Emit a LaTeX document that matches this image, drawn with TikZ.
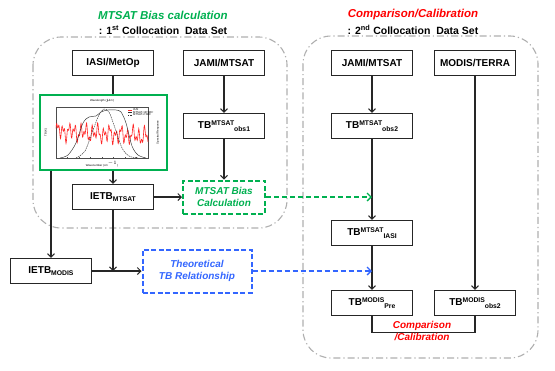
\documentclass[tikz,border=0pt]{standalone}
\usepackage{fontspec}
\setmainfont{Liberation Sans}
\usepackage{tikz}
\usetikzlibrary{positioning, arrows.meta}
\usepackage{xcolor}

\definecolor{biasgreen}{RGB}{0,176,80}
\definecolor{calred}{RGB}{255,0,0}
\definecolor{theoblue}{RGB}{51,102,255}
\definecolor{grpgray}{RGB}{175,175,175}

% TB with superscript then subscript
\newcommand{\tbss}[3]{#1\raisebox{3.5pt}{\fontsize{6.8}{7}\selectfont #2}\raisebox{-2.5pt}{\fontsize{6.8}{7}\selectfont #3}}
\newcommand{\tbsub}[2]{#1\raisebox{-2.5pt}{\fontsize{6.8}{7}\selectfont #2}}

\tikzset{
  box/.style={draw=black!85, line width=1.2pt, fill=white, minimum width=81pt, minimum height=25pt,
    inner sep=1pt, font=\fontsize{10}{12}\selectfont\bfseries},
  calcbox/.style={draw, line width=2pt, dash pattern=on 5pt off 2.5pt, align=center,
    font=\fontsize{10}{12}\selectfont\bfseries\itshape},
  grp/.style={draw=grpgray, line width=1.1pt, rounded corners=28pt,
    dash pattern=on 7pt off 3pt on 1.2pt off 3pt},
  flow/.style={-{Straight Barb[length=3.5pt,width=7pt,line width=1pt]}, draw=black!85, line width=1.2pt},
  dflow/.style={-{Straight Barb[length=4pt,width=8pt,line width=1.3pt]}, line width=1.8pt, dash pattern=on 5pt off 3pt},
  tiny label/.style={font=\fontsize{2.8}{3}\selectfont, inner sep=0pt},
}

\begin{document}
\begin{tikzpicture}[x=1pt, y=-1pt, node distance=60pt, on grid]
   \useasboundingbox (0,0) rectangle (555,370);

   % two collocation groups
   \draw[grp] (33,37) rectangle (287,228);
   \draw[grp] (303,36) rectangle (538,358);

   % titles
   \node[text=biasgreen, font=\fontsize{11.5}{13}\selectfont\bfseries\itshape] (t_1) at (163,15) {MTSAT Bias calculation};
   \node[font=\fontsize{10.5}{12}\selectfont\bfseries] (s_1) at (163,30) {: 1\textsuperscript{st} Collocation\ \ Data Set};
   \node[text=calred, font=\fontsize{11.5}{13}\selectfont\bfseries\itshape] (t_2) at (413,15) {Comparison/Calibration};
   \node[font=\fontsize{10.5}{12}\selectfont\bfseries] (s_2) at (413,30) {: 2\textsuperscript{nd} Collocation\ \ Data Set};

   % 1st data set
   \node[box] (iasi) at (113,63) {IASI/MetOp};
   \node[box] (jami_1) [right=111pt of iasi] {JAMI/MTSAT};
   \node[box] (obs_1) [below=63pt of jami_1] {\tbss{TB}{MTSAT}{obs1}};
   \node[calcbox, draw=biasgreen, text=biasgreen, minimum width=82pt, minimum height=33pt] (bias) [below=71pt of obs_1] {MTSAT Bias\\Calculation};
   \node[box] (ietb_m) [left=111pt of bias] {\tbsub{IETB}{MTSAT}};
   \node[draw=biasgreen, line width=1.3pt, minimum width=127pt, minimum height=75pt] (spec) at (103.5,132.5) {};
   \node[box] (ietb_d) at (51,271) {\tbsub{IETB}{MODIS}};
   \node[calcbox, draw=theoblue, text=theoblue, minimum width=109pt, minimum height=43pt] (theo) at (197,271) {Theoretical\\TB Relationship};

   % spectrum plot
   \begin{scope}[shift={(56,158)}, y=1pt]
     \draw[line width=0.35pt, black!70] (0,0) rectangle (92,51);
     \foreach \t in {0,11.5,...,92} {
       \draw[line width=0.25pt, black!70] (\t,0) -- (\t,1.2);
       \draw[line width=0.25pt, black!70] (\t,51) -- (\t,49.8);
     }
     \draw[red!85, line width=0.6pt] plot[domain=0:92, samples=240]
       (\x, {27 + 5.5*sin(\x*62) + 4*sin(\x*131+40) + 2.5*sin(\x*29) - 0.06*\x});
     \draw[black!80, line width=0.45pt] plot[smooth] coordinates
       {(4,0) (12,3) (20,15) (27,35) (33,41) (40,42) (45,46) (52,48) (60,48) (65,46) (70,35) (76,12) (82,3) (90,0)};
     \draw[black!80, line width=0.45pt, dash pattern=on 1.5pt off 0.8pt] plot[smooth] coordinates
       {(20,0) (29,7) (37,28) (43,43) (48,49) (53,46) (59,30) (66,10) (73,2) (82,0)};
     % legend
     \draw[red!85, line width=0.35pt] (72,48) -- (76,48);
     \draw[black!80, line width=0.35pt] (72,45.5) -- (76,45.5);
     \draw[black!80, line width=0.35pt, dash pattern=on 1pt off 0.6pt] (72,43) -- (76,43);
     \node[tiny label, anchor=west] (lg_1) at (77,48) {IASI};
     \node[tiny label, anchor=west] (lg_2) at (77,45.5) {MTSAT-1R SRF};
     \node[tiny label, anchor=west] (lg_3) at (77,43) {MTSAT-2 SRF};
     % axis labels
     \node[tiny label] (ax_b) at (46,-6) {Wavenumber (cm$^{-1}$)};
     \node[tiny label] (ax_t) at (46,57) {Wavelength ($\mu$m)};
     \node[tiny label, rotate=90] (ax_l) at (-10,25.5) {TB (K)};
     \node[tiny label, rotate=90] (ax_r) at (102,25.5) {Spectral Response};
   \end{scope}

   % 2nd data set
   \node[box] (jami_2) at (372,63) {JAMI/MTSAT};
   \node[box] (terra) [right=103pt of jami_2] {MODIS/TERRA};
   \node[box] (obs_2) [below=63pt of jami_2] {\tbss{TB}{MTSAT}{obs2}};
   \node[box] (tb_iasi) [below=107pt of obs_2] {\tbss{TB}{MTSAT}{IASI}};
   \node[box] (tb_pre) [below=70pt of tb_iasi] {\tbss{TB}{MODIS}{Pre}};
   \node[box] (obs_m) [right=103pt of tb_pre] {\tbss{TB}{MODIS}{obs2}};

   % connectors
   \draw[draw=black!85, line width=1.2pt] (iasi) -- (iasi |- spec.north);
   \draw[flow] (iasi |- spec.south) -- (ietb_m);
   \draw[flow] (ietb_d |- spec.south) -- (ietb_d);
   \draw[flow] (jami_1) -- (obs_1);
   \draw[flow] (obs_1) -- (bias);
   \draw[flow] (ietb_m) -- (bias);
   \draw[flow] (ietb_d) -- (theo);
   \draw[flow] (ietb_m) -- (ietb_m |- ietb_d);
   \draw[flow] (jami_2) -- (obs_2);
   \draw[flow] (obs_2) -- (tb_iasi);
   \draw[flow] (tb_iasi) -- (tb_pre);
   \draw[flow] (terra) -- (obs_m);
   \draw[dflow, biasgreen] (bias) -- (bias -| obs_2);
   \draw[dflow, theoblue] (theo) -- (theo -| tb_iasi);

   % comparison bracket
   \draw[draw=black!85, line width=1.2pt] (tb_pre.south) -- ++(0,16) -| (obs_m.south);
   \node[text=calred, align=center, font=\fontsize{10}{12}\selectfont\bfseries\itshape] (cmp) at (422,331) {Comparison\\/Calibration};
\end{tikzpicture}
\end{document}
